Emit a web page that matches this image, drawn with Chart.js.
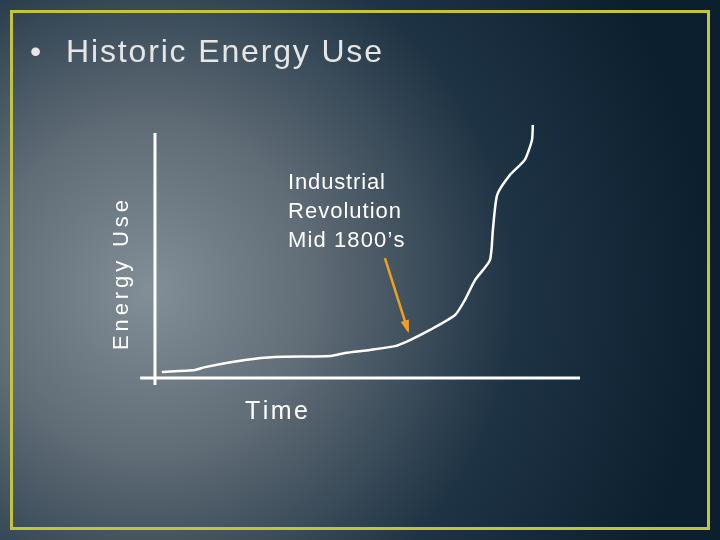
<!DOCTYPE html>
<html><head><meta charset="utf-8">
<script src="https://cdn.jsdelivr.net/npm/chart.js@4"></script>
<style>html,body{margin:0;padding:0;background:#0f2232}</style>
</head><body>
<canvas id="c" width="720" height="540"></canvas>
<script>
const timeValues = [1.6, 9.4, 11.8, 21.2, 28.2, 41.2, 44.7, 50.6, 56.5, 60, 64.7, 70.6, 72.9, 75.3, 78.8, 79.5, 80.5, 83.5, 87, 88.7, 88.9];
const energyValues = [2.4, 3.2, 4.3, 7.1, 8.3, 8.7, 9.9, 11.1, 12.6, 15, 19, 24.9, 30.8, 38.7, 46.6, 58.5, 72.3, 80.2, 86.2, 94.1, 100];
const titleText = 'Historic Energy Use';
const noteLines = ['Industrial', 'Revolution', 'Mid 1800’s'];
const xLabel = 'Time';
const yLabel = 'Energy Use';

function spaced(c, t, x, y, w) {
  // fit text to target width via letter spacing
  const n = t.length - 1;
  const base = c.measureText(t).width;
  const sp = n > 0 ? (w - base) / n : 0;
  let cx = x;
  for (const ch of t) { c.fillText(ch, cx, y); cx += c.measureText(ch).width + sp; }
}

const deco = {
  id: 'deco',
  beforeDraw(ch) {
    const c = ch.ctx, W = ch.width, H = ch.height;
    c.save();
    const g = c.createRadialGradient(150, 290, 0, 150, 290, 560);
    g.addColorStop(0, '#838f97');
    g.addColorStop(0.3, '#5f6b75');
    g.addColorStop(0.65, '#1e3344');
    g.addColorStop(1, '#0b1f2f');
    c.fillStyle = g; c.fillRect(0, 0, W, H);
    c.strokeStyle = '#c3c43a'; c.lineWidth = 3;
    c.strokeRect(11.5, 11.5, W - 23, H - 23);
    c.fillStyle = '#e6e6e6'; c.font = '32px "Liberation Sans", Arial';
    c.textBaseline = 'middle';
    c.fillText('•', 30, 53);
    spaced(c, titleText, 66, 53, 316);
    c.restore();
  },
  afterDatasetsDraw(ch) {
    const c = ch.ctx, xs = ch.scales.x, ys = ch.scales.y;
    c.save();
    c.strokeStyle = '#ffffff'; c.lineWidth = 3;
    c.beginPath();
    c.moveTo(xs.getPixelForValue(0), ys.getPixelForValue(96.8));
    c.lineTo(xs.getPixelForValue(0), ys.getPixelForValue(-2.8));
    c.moveTo(xs.getPixelForValue(-3.5), ys.getPixelForValue(0));
    c.lineTo(xs.getPixelForValue(100), ys.getPixelForValue(0));
    c.stroke();
    const x1 = xs.getPixelForValue(54.1), y1 = ys.getPixelForValue(47.4);
    const x2 = xs.getPixelForValue(59.5), y2 = ys.getPixelForValue(18.8);
    c.strokeStyle = '#f0a020'; c.fillStyle = '#f0a020'; c.lineWidth = 2.5;
    c.beginPath(); c.moveTo(x1, y1); c.lineTo(x2, y2); c.stroke();
    const a = Math.atan2(y2 - y1, x2 - x1);
    c.beginPath(); c.moveTo(x2 + 3 * Math.cos(a), y2 + 3 * Math.sin(a));
    c.lineTo(x2 - 11 * Math.cos(a - 0.4), y2 - 11 * Math.sin(a - 0.4));
    c.lineTo(x2 - 11 * Math.cos(a + 0.4), y2 - 11 * Math.sin(a + 0.4));
    c.closePath(); c.fill();
    c.fillStyle = '#ffffff'; c.font = '22px "Liberation Sans", Arial';
    c.textBaseline = 'middle';
    const widths = [97, 113, 116];
    noteLines.forEach((t, i) => spaced(c, t, 288, 183 + i * 29, widths[i]));
    c.font = '25px "Liberation Sans", Arial';
    spaced(c, xLabel, 245, 412, 62);
    c.translate(122, 350); c.rotate(-Math.PI / 2);
    c.font = '22px "Liberation Sans", Arial';
    spaced(c, yLabel, 0, 0, 150);
    c.restore();
  }
};

new Chart(document.getElementById('c'), {
  type: 'line',
  data: { datasets: [{
    data: timeValues.map((x, i) => ({ x, y: energyValues[i] })),
    borderColor: '#ffffff', borderWidth: 2.5, pointRadius: 0, tension: 0.2, fill: false
  }] },
  options: {
    responsive: false, animation: false,
    layout: { padding: { left: 155, right: 140, top: 125, bottom: 162 } },
    plugins: { legend: { display: false }, tooltip: { enabled: false } },
    scales: {
      x: { type: 'linear', min: 0, max: 100, display: false },
      y: { min: 0, max: 100, display: false }
    }
  },
  plugins: [deco]
});
</script>
</body></html>
